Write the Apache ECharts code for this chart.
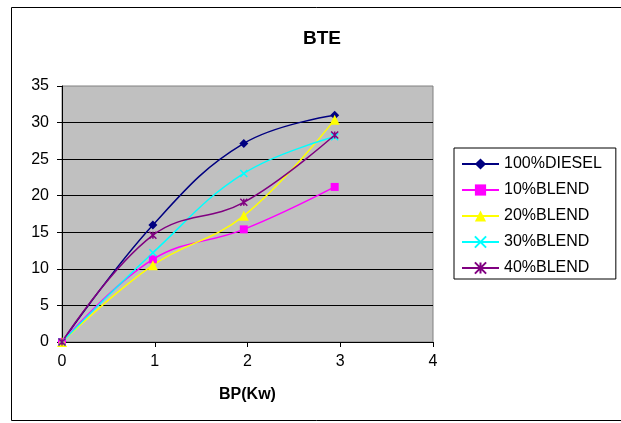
<!DOCTYPE html>
<html>
<head>
<meta charset="utf-8">
<script src="https://cdn.jsdelivr.net/npm/echarts@6/dist/echarts.min.js"></script>
<style>html,body{margin:0;padding:0;background:#fff}#c{width:621px;height:423px}</style>
</head>
<body>
<div id="c"></div>
<script>
const bp = [0, 0.98, 1.96, 2.94];
const diesel100 = [0, 16.0, 27.15, 31.0];
const blend10 = [0, 11.3, 15.4, 21.2];
const blend20 = [0, 10.5, 17.25, 30.4];
const blend30 = [0, 12.2, 23.05, 28.05];
const blend40 = [0, 14.6, 19.1, 28.3];
const seriesNames = ['100%DIESEL', '10%BLEND', '20%BLEND', '30%BLEND', '40%BLEND'];
const yTicks = [0, 5, 10, 15, 20, 25, 30, 35];
const xTicks = [0, 1, 2, 3, 4];

const pairs = v => bp.map((x, i) => [x, v[i]]);
const font = 'Arial, "Liberation Sans", sans-serif';
const xPath = 'path://M0,0 L10,10 M10,0 L0,10';
const starPath = 'path://M0,0 L10,10 M10,0 L0,10 M5,0 L5,10';

const defs = [
  {data: diesel100, color: '#000080', symbol: 'diamond', size: 9},
  {data: blend10, color: '#FF00FF', symbol: 'rect', size: 8},
  {data: blend20, color: '#FFFF00', symbol: 'triangle', size: 10},
  {data: blend30, color: '#00FFFF', symbol: xPath, size: 7, stroke: true},
  {data: blend40, color: '#800080', symbol: starPath, size: 7, stroke: true}
];

const chart = echarts.init(document.getElementById('c'), null, {renderer: 'canvas'});
chart.setOption({
  backgroundColor: '#fff',
  animation: false,
  title: {
    text: 'BTE', left: 317, top: 24, textAlign: 'center',
    textStyle: {fontFamily: font, fontSize: 19, fontWeight: 'bold', color: '#000'}
  },
  graphic: [{
    type: 'rect', shape: {x: 11.5, y: 7.5, width: 700, height: 413},
    style: {fill: 'none', stroke: '#000', lineWidth: 1}, silent: true, z: -1
  }],
  legend: {
    orient: 'vertical', left: 454, top: 148,
    data: seriesNames,
    borderColor: '#000', borderWidth: 1,
    padding: [8, 14, 3, 7],
    itemWidth: 37, itemHeight: 14, itemGap: 10,
    textStyle: {fontFamily: font, fontSize: 16, color: '#000', lineHeight: 16}
  },
  grid: {
    left: 62, right: 188, top: 86, bottom: 81,
    show: true, backgroundColor: '#C0C0C0', borderColor: '#808080', borderWidth: 1
  },
  xAxis: {
    type: 'value', min: 0, max: 4, interval: 1,
    name: 'BP(Kw)', nameLocation: 'middle', nameGap: 45,
    nameTextStyle: {fontFamily: font, fontSize: 16, fontWeight: 'bold', color: '#000'},
    axisLine: {show: true, onZero: false, lineStyle: {color: '#000', width: 1}},
    axisTick: {show: true, inside: false, length: 5, lineStyle: {color: '#000'}},
    axisLabel: {fontFamily: font, fontSize: 16, color: '#000', margin: 12,
      formatter: v => xTicks.includes(v) ? String(v) : ''},
    splitLine: {show: false}
  },
  yAxis: {
    type: 'value', min: 0, max: 35, interval: 5,
    axisLine: {show: true, onZero: false, lineStyle: {color: '#000', width: 1}},
    axisTick: {show: true, inside: false, length: 5, lineStyle: {color: '#000'}},
    axisLabel: {fontFamily: font, fontSize: 16, color: '#000', margin: 13,
      formatter: v => yTicks.includes(v) ? String(v) : ''},
    splitLine: {show: true, showMaxLine: false, showMinLine: false, lineStyle: {color: '#000', width: 1}}
  },
  series: defs.map((d, i) => ({
    name: seriesNames[i],
    type: 'line',
    data: pairs(d.data),
    smooth: 0.4,
    symbol: d.symbol,
    symbolSize: d.size,
    showAllSymbol: true,
    lineStyle: {color: d.color, width: 1.5},
    itemStyle: d.stroke
      ? {color: d.color, borderColor: d.color, borderWidth: 1.5}
      : {color: d.color, borderColor: d.color, borderWidth: 0}
  }))
});
</script>
</body>
</html>
